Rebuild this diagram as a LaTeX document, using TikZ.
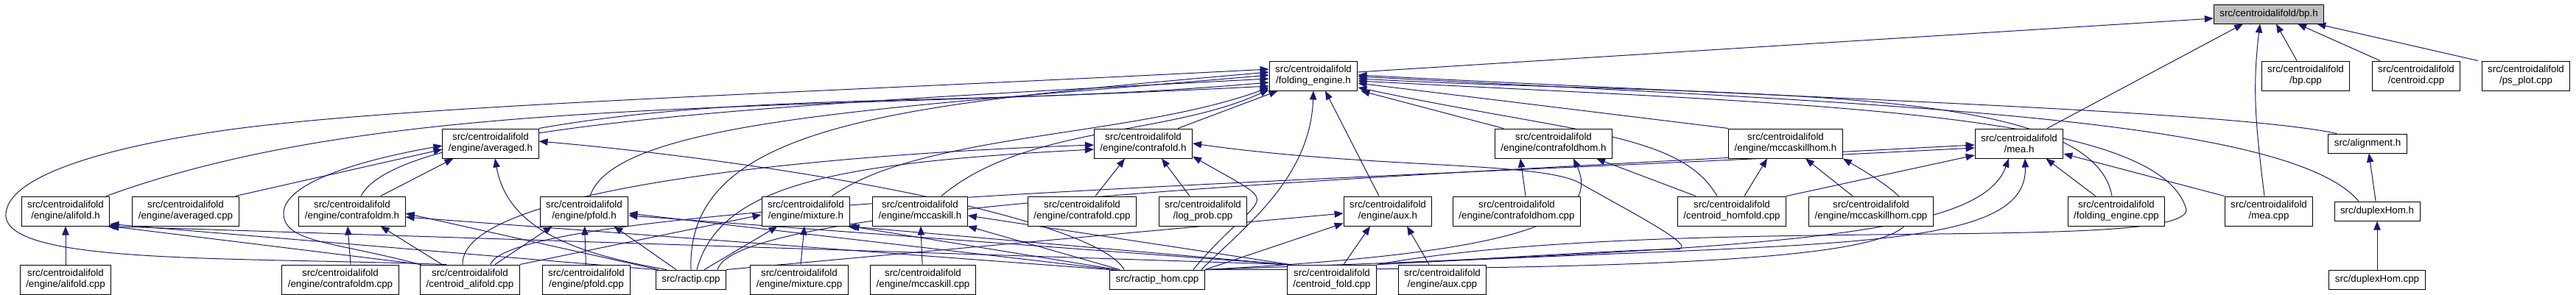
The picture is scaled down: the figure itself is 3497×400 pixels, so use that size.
\documentclass[tikz,border=0pt]{standalone}
\usepackage{fontspec}
\setmainfont{Liberation Sans}
\usetikzlibrary{arrows.meta,calc}
\definecolor{edgeblue}{HTML}{191970}
\pgfdeclarelayer{edges}
\pgfsetlayers{edges,main}
\begin{document}
\begin{tikzpicture}[x=0.75pt, y=0.75pt, >={Triangle[length=9pt,width=7pt]},
  filenode/.style={draw, line width=0.75pt, fill=white, align=center, inner xsep=6pt, inner ysep=2pt, minimum height=30pt, font=\fontsize{10}{11.25}\selectfont},
  oneline/.style={filenode, minimum height=19.5pt},
  incl/.style={->, edgeblue, line width=0.75pt}]
\useasboundingbox (0,0) rectangle (3497,-400);

\node[oneline, fill=gray!50] (bph) at (3080,-19) {src/centroidalifold/bp.h};

\node[filenode] (fe) at (1783,-103) {src/centroidalifold\\/folding\_engine.h};
\node[filenode] (bpc) at (3130,-103) {src/centroidalifold\\/bp.cpp};
\node[filenode] (cenc) at (3280,-103) {src/centroidalifold\\/centroid.cpp};
\node[filenode] (psc) at (3429,-103) {src/centroidalifold\\/ps\_plot.cpp};

\node[filenode] (avh) at (666,-195) {src/centroidalifold\\/engine/averaged.h};
\node[filenode] (cfh) at (1552,-195) {src/centroidalifold\\/engine/contrafold.h};
\node[filenode] (cfhh) at (2109,-195) {src/centroidalifold\\/engine/contrafoldhom.h};
\node[filenode] (mchh) at (2424,-195) {src/centroidalifold\\/engine/mccaskillhom.h};
\node[filenode] (meah) at (2741,-195) {src/centroidalifold\\/mea.h};
\node[oneline] (alnh) at (3214,-195) {src/alignment.h};

\node[filenode] (alih) at (89,-287) {src/centroidalifold\\/engine/alifold.h};
\node[filenode] (avc) at (252,-287) {src/centroidalifold\\/engine/averaged.cpp};
\node[filenode] (cfmh) at (478,-287) {src/centroidalifold\\/engine/contrafoldm.h};
\node[filenode] (pfh) at (793,-287) {src/centroidalifold\\/engine/pfold.h};
\node[filenode] (mixh) at (1094,-287) {src/centroidalifold\\/engine/mixture.h};
\node[filenode] (mch) at (1249,-287) {src/centroidalifold\\/engine/mccaskill.h};
\node[filenode] (cfc) at (1469,-287) {src/centroidalifold\\/engine/contrafold.cpp};
\node[filenode] (lpc) at (1633,-287) {src/centroidalifold\\/log\_prob.cpp};
\node[filenode] (auxh) at (1884,-287) {src/centroidalifold\\/engine/aux.h};
\node[filenode] (cfhc) at (2059,-287) {src/centroidalifold\\/engine/contrafoldhom.cpp};
\node[filenode] (chfc) at (2351,-287) {src/centroidalifold\\/centroid\_homfold.cpp};
\node[filenode] (mchc) at (2540,-287) {src/centroidalifold\\/engine/mccaskillhom.cpp};
\node[filenode] (fec) at (2873,-287) {src/centroidalifold\\/folding\_engine.cpp};
\node[filenode] (meac) at (3080,-287) {src/centroidalifold\\/mea.cpp};
\node[oneline] (dxh) at (3227,-287) {src/duplexHom.h};

\node[filenode] (alic) at (89,-380) {src/centroidalifold\\/engine/alifold.cpp};
\node[filenode] (cfmc) at (462,-380) {src/centroidalifold\\/engine/contrafoldm.cpp};
\node[filenode] (calc) at (638,-380) {src/centroidalifold\\/centroid\_alifold.cpp};
\node[filenode] (pfc) at (796,-380) {src/centroidalifold\\/engine/pfold.cpp};
\node[oneline] (rac) at (938,-380) {src/ractip.cpp};
\node[filenode] (mixc) at (1085,-380) {src/centroidalifold\\/engine/mixture.cpp};
\node[filenode] (mcc) at (1253,-380) {src/centroidalifold\\/engine/mccaskill.cpp};
\node[oneline] (rhc) at (1571,-380) {src/ractip\_hom.cpp};
\node[filenode] (cfoc) at (1808,-380) {src/centroidalifold\\/centroid\_fold.cpp};
\node[filenode] (auxc) at (1958,-380) {src/centroidalifold\\/engine/aux.cpp};
\node[oneline] (dxc) at (3227,-380) {src/duplexHom.cpp};

\coordinate (lpa) at (8,-290);
\coordinate (lpb) at (306,-177);
\coordinate (ava) at (385,-290);
\coordinate (rla) at (2968,-285);
\coordinate (cfl) at (2274,-339);
\coordinate (cfm) at (2145,-249);

\begin{pgfonlayer}{edges}
\draw[incl] ($(fe.east)+(0,5)$) -- ($(bph.west)+(0,-6)$);
\draw[incl] ($(meah.north)+(38,0)$) -- ($(bph.south)+(-35,0)$);
\draw[incl] ($(meac.north)+(-6,0)$) to[out=97,in=-97] ($(bph.south)+(-12,0)$);
\draw[incl] ($(bpc.north)+(-12,0)$) -- ($(bph.south)+(10,0)$);
\draw[incl] ($(cenc.north)+(-49,0)$) -- ($(bph.south)+(39,0)$);
\draw[incl] ($(psc.north)+(-65,0)$) -- ($(bph.south east)+(-10,0)$);

\draw[incl] ($(alih.north east)+(-5,0)$) .. controls +(20:400) and +(183:700) .. ($(fe.west)+(0,-14)$);
\draw[incl] (avh.north east) .. controls +(10:300) and +(185:400) .. ($(fe.west)+(0,-9)$);
\draw[incl] ($(cfmh.north)+(12,0)$) .. controls +(62:110) and +(183:700) .. ($(fe.west)+(0,-4)$);
\draw[incl] ($(pfh.north)+(8,0)$) .. controls +(72:110) and +(185:500) .. ($(fe.west)+(0,1)$);
\draw[incl] (rac.north) .. controls +(92:200) and +(185:500) .. ($(fe.west)+(0,5)$);
\draw[incl] ($(mixh.north east)+(-25,0)$) .. controls +(35:150) and +(200:200) .. ($(fe.west)+(0,-16)$);
\draw[incl] ($(mch.north east)+(-36,0)$) .. controls +(40:150) and +(205:150) .. ($(fe.south west)+(0,2)$);
\draw[incl] ($(cfh.north east)+(-20,0)$) -- ($(fe.south west)+(12,0)$);
\draw[incl] ($(auxh.north)+(-12,0)$) -- ($(fe.south)+(16,0)$);
\draw[incl] ($(rhc.north east)+(-5,0)$) .. controls +(45:80) and +(-92:120) .. (fe.south);
\draw[incl] ($(cfhh.north west)+(12,0)$) -- ($(fe.south east)+(4,0)$);
\draw[incl] (mchh.north west) -- ($(fe.east)+(0,-10)$);
\draw[incl] ($(chfc.north)+(-20,0)$) .. controls +(120:100) and +(-12:300) .. ($(fe.east)+(0,-16)$);
\draw[incl] ($(fec.north)+(-6,0)$) .. controls +(100:160) and +(-3:500) .. ($(fe.east)+(0,-4)$);
\draw[incl] ($(alnh.north west)+(12,0)$) .. controls +(168:150) and +(-3:600) .. ($(fe.east)+(0,1)$);
\draw[incl] ($(dxh.north)+(-25,0)$) .. controls +(130:150) and +(-3:700) .. ($(fe.east)+(0,-1)$);
\draw[incl] ($(calc.north west)+(36,0)$) .. controls +(178:300) and +(-95:70) .. (lpa)
  .. controls +(85:60) and +(188:120) .. (lpb)
  .. controls +(8:250) and +(183:600) .. ($(fe.west)+(0,9)$);
\draw[incl] (cfoc.north east) .. controls +(10:400) and +(-90:60) .. (rla)
  .. controls +(105:140) and +(-3:600) .. ($(fe.east)+(0,-7)$);

\draw[incl] ($(avc.north east)+(-5,0)$) -- ($(avh.west)+(0,-8)$);
\draw[incl] (calc.north west) .. controls +(165:120) and +(-90:40) .. (ava)
  .. controls +(90:40) and +(190:120) .. ($(avh.west)+(0,-3)$);
\draw[incl] ($(cfmh.north east)+(-34,0)$) -- ($(avh.south west)+(15,0)$);
\draw[incl] ($(rac.north west)+(15,0)$) .. controls +(170:120) and +(-80:100) .. ($(avh.south)+(6,0)$);
\draw[incl] ($(rhc.north west)+(20,0)$) .. controls +(120:80) and +(-5:350) .. ($(avh.east)+(0,3)$);

\draw[incl] (alic) -- (alih);
\draw[incl] ($(calc.north west)+(2,0)$) -- (alih.south east);
\draw[incl] (rac.north west) -- ($(alih.south east)+(0,3)$);
\draw[incl] (cfoc.north west) -- ($(alih.south east)+(-4,0)$);

\draw[incl] ($(cfmc.north)+(14,0)$) -- ($(cfmh.south)+(-6,0)$);
\draw[incl] ($(calc.north)+(-38,0)$) -- ($(cfmh.south east)+(-34,0)$);
\draw[incl] ($(rac.north west)+(4,0)$) -- ($(cfmh.east)+(0,-3)$);
\draw[incl] (rhc.north west) -- ($(cfmh.east)+(0,-8)$);

\draw[incl] ($(calc.north)+(34,0)$) -- ($(pfh.south west)+(17,0)$);
\draw[incl] (pfc) -- (pfh);
\draw[incl] ($(rac.north)+(-20,0)$) -- ($(pfh.south east)+(-20,0)$);
\draw[incl] ($(rhc.north west)+(6,0)$) -- ($(pfh.east)+(0,-3)$);
\draw[incl] (cfoc.north west) -- ($(pfh.east)+(0,-6)$);

\draw[incl] (calc.north east) -- ($(mixh.west)+(0,-5)$);
\draw[incl] ($(rac.north east)+(-30,0)$) -- ($(mixh.south west)+(22,0)$);
\draw[incl] (mixc) -- (mixh);
\draw[incl] ($(rhc.north west)+(10,0)$) -- (mixh.south east);
\draw[incl] (cfoc.north west) -- ($(mixh.south east)+(-4,0)$);

\draw[incl] (mcc) -- (mch);
\draw[incl] ($(rhc.north west)+(14,0)$) -- (mch.south east);
\draw[incl] ($(cfoc.north west)+(4,0)$) -- ($(mch.east)+(0,-6)$);

\draw[incl] ($(calc.north)+(-10,0)$) .. controls +(92:100) and +(182:400) .. ($(cfh.west)+(0,-2)$);
\draw[incl] ($(rac.north)+(8,0)$) .. controls +(75:120) and +(183:350) .. ($(cfh.west)+(0,-8)$);
\draw[incl] ($(cfc.north)+(18,0)$) -- ($(cfh.south)+(-25,0)$);
\draw[incl] ($(lpc.north)+(-18,0)$) -- ($(cfh.south)+(25,0)$);
\draw[incl] ($(rhc.north east)+(-16,0)$) .. controls +(50:150) and +(-30:150) .. ($(cfh.south east)+(0,3)$);
\draw[incl] (cfoc.north east) .. controls +(3:220) and +(180:60) .. (cfl)
  .. controls +(0:40) and +(-30:80) .. (cfm)
  .. controls +(150:60) and +(-8:250) .. (cfh.east);

\draw[incl] (rac.north east) -- ($(auxh.west)+(0,-3)$);
\draw[incl] (rhc.north east) -- ($(auxh.south west)+(0,4)$);
\draw[incl] ($(cfoc.north)+(16,0)$) -- ($(auxh.south)+(-24,0)$);
\draw[incl] ($(auxc.north)+(-18,0)$) -- ($(auxh.south)+(26,0)$);

\draw[incl] ($(cfhc.north)+(12,0)$) -- ($(cfhh.south)+(-45,0)$);
\draw[incl] (rhc.north east) .. controls +(3:400) and +(-65:100) .. ($(cfhh.south)+(27,0)$);
\draw[incl] ($(chfc.north west)+(25,0)$) -- ($(cfhh.south east)+(-22,0)$);

\draw[incl] ($(chfc.north)+(17,0)$) -- ($(mchh.south)+(-25,0)$);
\draw[incl] ($(mchc.north)+(-25,0)$) -- ($(mchh.south)+(27,0)$);
\draw[incl] (rhc.north east) .. controls +(0:1000) and +(-30:220) .. (mchh.south east);

\draw[incl] ($(calc.north east)+(-40,0)$) .. controls +(70:90) and +(183:900) .. ($(meah.west)+(0,-6)$);
\draw[incl] ($(rac.north east)+(-12,0)$) .. controls +(75:90) and +(183:900) .. ($(meah.west)+(0,-2)$);
\draw[incl] (chfc.north east) -- ($(meah.west)+(0,-16)$);
\draw[incl] (rhc.north east) .. controls +(2:800) and +(-110:110) .. ($(meah.south)+(-14,0)$);
\draw[incl] (cfoc.north east) .. controls +(3:600) and +(-88:130) .. ($(meah.south)+(8,0)$);
\draw[incl] ($(fec.north west)+(38,0)$) -- ($(meah.south east)+(-24,0)$);
\draw[incl] (meac.north west) -- ($(meah.east)+(0,-14)$);

\draw[incl] (dxh) -- (alnh);
\draw[incl] (dxc) -- (dxh);
\end{pgfonlayer}
\end{tikzpicture}
\end{document}
